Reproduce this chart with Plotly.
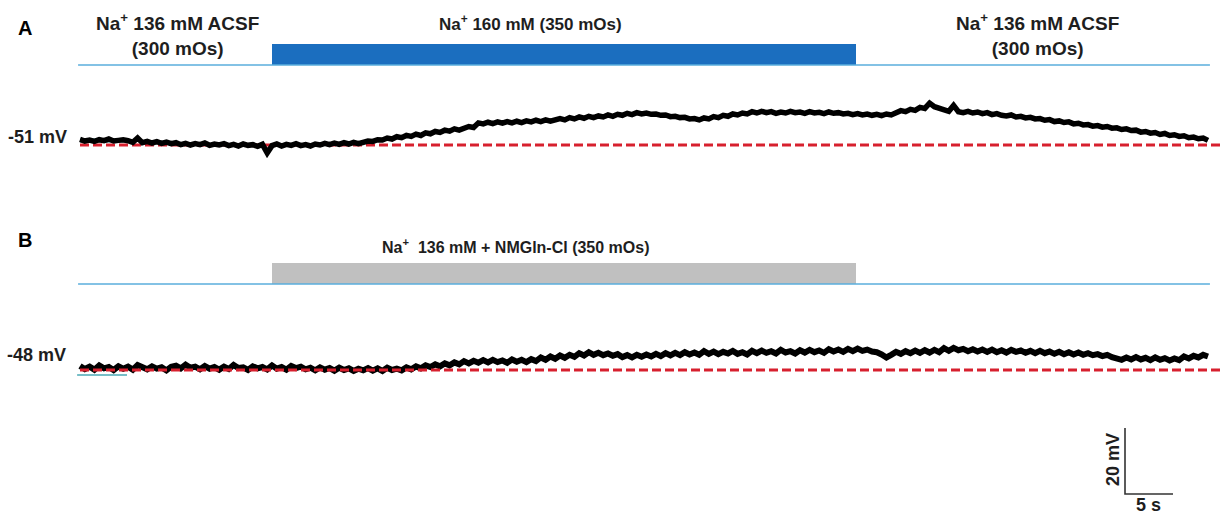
import plotly.graph_objects as go

# ---------------- data ----------------
SAMPLE_DT = 0.5  # s between read-off samples

# Panel A membrane potential (mV), read every 0.5 s from t = 0
V_A = [
    -49.3, -49.8, -49.5, -49.9, -49.4, -49.7, -49.2, -49.8, -49.6, -49.4,
    -49.7, -50.2, -48.9, -50.3, -49.9, -50.4, -50.0, -50.5, -50.1, -50.6,
    -50.3, -50.9, -50.5, -51.0, -50.6, -50.9, -50.4, -51.1, -50.7, -51.0,
    -50.6, -51.2, -50.8, -51.3, -50.7, -51.1, -50.9, -51.4, -50.8, -53.4,
    -51.2, -50.7, -51.3, -50.8, -51.1, -50.6, -51.2, -50.9, -51.3, -50.7,
    -51.0, -50.5, -50.9, -50.4, -50.8, -50.3, -50.7, -50.2, -50.6, -50.1,
    -49.8, -49.9, -49.4, -49.5, -48.9, -49.2, -48.5, -48.8, -48.1, -48.4,
    -47.7, -48.1, -47.3, -47.6, -46.9, -47.2, -46.5, -46.8, -46.1, -46.5,
    -45.9, -45.4, -45.7, -44.3, -44.6, -44.1, -44.5, -44.0, -44.4, -43.9,
    -44.3, -43.8, -44.2, -43.7, -44.0, -43.5, -43.9, -43.4, -43.8, -43.3,
    -43.0, -43.4, -42.7, -43.1, -42.5, -42.9, -42.3, -42.7, -42.2, -42.5,
    -41.9, -42.3, -41.7, -42.0, -41.4, -41.8, -41.2, -41.6, -41.3, -41.7,
    -41.6, -42.0, -41.9, -42.4, -42.3, -42.7, -42.6, -43.1, -43.0, -43.4,
    -42.8, -43.1, -42.4, -42.7, -42.0, -42.3, -41.6, -41.9, -41.3, -41.6,
    -40.9, -41.3, -40.8, -41.2, -40.9, -41.4, -41.0, -41.3, -40.8, -41.2,
    -41.0, -41.4, -40.9, -41.3, -41.1, -41.5, -41.0, -41.4, -41.2, -41.6,
    -41.4, -41.8, -41.5, -41.9, -41.6, -42.0, -41.7, -42.1, -41.6, -41.9,
    -41.2, -40.6, -40.9, -40.2, -40.5, -39.6, -39.9, -38.3, -39.4, -40.0,
    -40.3, -40.8, -39.0, -40.9, -41.2, -40.8, -41.3, -41.0, -41.5, -41.2,
    -41.8, -41.5, -42.0, -42.2, -41.9, -42.5, -42.3, -42.8, -42.6, -43.1,
    -43.0, -43.5, -43.3, -43.9, -43.7, -44.2, -44.0, -44.6, -44.4, -44.9,
    -44.8, -45.3, -45.1, -45.6, -45.4, -45.9, -45.8, -46.3, -46.1, -46.6,
    -46.5, -47.1, -46.9, -47.4, -47.2, -47.8, -47.5, -48.1, -47.9, -48.4,
    -48.2, -48.8, -48.6, -49.1, -48.9, -49.6,
]

# Panel B membrane potential (mV), read every 0.5 s from t = 0
V_B = [
    -46.8, -47.7, -47.0, -47.9, -46.6, -47.5, -47.1, -48.0, -46.9, -47.6,
    -47.0, -47.9, -46.5, -47.4, -47.8, -46.9, -47.6, -47.2, -48.1, -47.0,
    -46.7, -47.5, -46.4, -47.3, -47.0, -47.8, -46.8, -47.6, -47.1, -47.9,
    -47.0, -47.7, -46.5, -47.4, -47.2, -48.0, -46.9, -47.5, -47.1, -47.8,
    -46.6, -47.6, -47.1, -47.9, -46.8, -47.4, -47.0, -47.8, -47.3, -48.1,
    -47.2, -47.9, -47.4, -48.2, -47.3, -48.0, -47.5, -48.3, -47.6, -48.1,
    -47.4, -48.2, -47.5, -48.3, -47.3, -48.0, -47.6, -48.1, -47.2, -47.8,
    -46.9, -47.5, -46.6, -47.1, -46.3, -46.9, -46.0, -46.6, -45.7, -46.3,
    -45.3, -46.0, -45.2, -45.8, -45.0, -45.7, -44.9, -45.6, -45.1, -45.8,
    -44.8, -45.5, -44.9, -45.6, -44.7, -45.3, -44.2, -44.9, -43.9, -44.6,
    -43.6, -44.3, -43.4, -44.0, -42.9, -43.6, -42.6, -43.4, -42.8, -43.5,
    -43.0, -43.7, -43.2, -44.1, -43.5, -44.2, -43.4, -44.0, -43.3, -43.9,
    -43.1, -43.8, -42.9, -43.6, -42.8, -43.5, -42.6, -43.3, -42.7, -43.4,
    -42.3, -43.1, -42.4, -43.2, -42.5, -43.0, -42.2, -43.1, -42.6, -43.3,
    -42.2, -42.9, -42.1, -42.8, -42.3, -43.0, -41.9, -42.7, -42.3, -43.0,
    -42.0, -42.7, -41.9, -42.6, -42.1, -42.8, -41.7, -42.4, -41.8, -42.5,
    -41.6, -42.3, -41.5, -42.2, -41.8, -42.4, -42.6, -43.3, -44.2, -43.4,
    -42.5, -43.1, -42.3, -42.9, -42.1, -42.8, -42.0, -42.7, -41.9, -42.6,
    -41.4, -42.2, -41.3, -42.0, -41.6, -42.3, -41.7, -42.4, -41.8, -42.5,
    -41.8, -42.6, -42.0, -42.7, -41.9, -42.5, -42.1, -42.8, -42.2, -42.9,
    -42.2, -42.9, -42.4, -43.1, -42.5, -43.2, -42.6, -43.3, -42.7, -43.4,
    -42.9, -43.5, -43.2, -43.8, -43.4, -44.1, -44.3, -44.9, -44.2, -44.8,
    -44.1, -44.8, -44.3, -45.0, -44.2, -44.9, -44.4, -45.1, -44.5, -45.0,
    -43.9, -44.5, -43.7, -44.2, -43.4, -43.9,
]

# Short teal overlay traces at the start of each recording
T_TEAL_A = [0.0, 5.0]
T_TEAL_B = [-0.3, 4.9]
V_TEAL_A = [-49.6, -49.6]
V_TEAL_B = [-49.5, -49.5]

# Resting potentials (dashed reference lines)
REST_A = -51
REST_B = -48
REST_LABELS = ["-51 mV", "-48 mV"]

# Perfusion protocol (s)
REC_START, REC_END = -0.2, 117.7
TREAT_START, TREAT_END = 20.0, 80.8
SOLUTION_LABELS_A = ["Na<sup>+</sup> 136 mM ACSF<br>(300 mOs)",
                     "Na<sup>+</sup> 160 mM (350 mOs)",
                     "Na<sup>+</sup> 136 mM ACSF<br>(300 mOs)"]
SOLUTION_LABEL_B = "Na<sup>+</sup>  136 mM + NMGln-Cl (350 mOs)"
PANEL_LABELS = ["A", "B"]

# Scale bar
SCALE_MV = 20
SCALE_S = 5

# ---------------- layout geometry (pixels) ----------------
W, H = 1220, 515
X0_PX = 80          # pixel of t = 0
PX_PER_S = 9.6
PX_PER_MV = 3.3
STIM_PX = 21        # height of solution bar


def t_at(px):
    return (px - X0_PX) / PX_PER_S


def yaxis_cfg(top_px, bot_px, ref_px, ref_val, px_per_unit):
    return dict(
        domain=[1 - bot_px / H, 1 - top_px / H],
        range=[ref_val - (bot_px - ref_px) / px_per_unit,
               ref_val + (ref_px - top_px) / px_per_unit],
        visible=False, fixedrange=True, anchor="x",
    )


def at(xp, yp):
    return dict(x=xp / W, y=1 - yp / H, xref="paper", yref="paper",
                xanchor="center", yanchor="middle", showarrow=False)


def bfont(size, color="#1e1e1e"):
    return dict(family="Arial, 'Liberation Sans', Helvetica, sans-serif",
                size=size, color=color, weight="bold")


times_a = [i * SAMPLE_DT for i in range(len(V_A))]
times_b = [i * SAMPLE_DT for i in range(len(V_B))]

BLUE_LINE = "#5aaedc"
RED = "#d7202e"

fig = go.Figure()

# --- solution bars ---
for yref, col in (("y3", "#1b6ebf"), ("y4", "#c0c0c0")):
    fig.add_trace(go.Scatter(x=[REC_START, REC_END], y=[0, 0], yaxis=yref,
                             mode="lines", line=dict(color=BLUE_LINE, width=1.3),
                             hoverinfo="skip"))
    fig.add_trace(go.Bar(x=[(TREAT_START + TREAT_END) / 2], y=[1], base=[0],
                         width=[TREAT_END - TREAT_START], yaxis=yref,
                         marker=dict(color=col, line=dict(width=0)),
                         hoverinfo="skip"))

# --- panel A ---
fig.add_trace(go.Scatter(x=T_TEAL_A, y=V_TEAL_A, yaxis="y", mode="lines",
                         line=dict(color="#2f9c9c", width=4), hoverinfo="skip"))
fig.add_trace(go.Scatter(x=[0, t_at(W + 5)], y=[REST_A, REST_A], yaxis="y",
                         mode="lines", line=dict(color=RED, width=2.8, dash="9px,4px"),
                         hoverinfo="skip"))
fig.add_trace(go.Scatter(x=times_a, y=V_A, yaxis="y", mode="lines",
                         line=dict(color="black", width=5.5), hoverinfo="skip"))

# --- panel B ---
fig.add_trace(go.Scatter(x=T_TEAL_B, y=V_TEAL_B, yaxis="y2", mode="lines",
                         line=dict(color="#4aa9b5", width=1.5), hoverinfo="skip"))
fig.add_trace(go.Scatter(x=times_b, y=V_B, yaxis="y2", mode="lines",
                         line=dict(color="black", width=6), hoverinfo="skip"))
fig.add_trace(go.Scatter(x=[0, t_at(W + 5)], y=[REST_B, REST_B], yaxis="y2",
                         mode="lines", line=dict(color=RED, width=2.8, dash="9px,4px"),
                         hoverinfo="skip"))

# --- scale bar (in panel B units) ---
sb_t = t_at(1125)
sb_v = REST_B - (494 - 370) / PX_PER_MV
fig.add_trace(go.Scatter(x=[sb_t, sb_t, sb_t + SCALE_S],
                         y=[sb_v + SCALE_MV, sb_v, sb_v], yaxis="y2",
                         mode="lines", line=dict(color="#333333", width=1.6),
                         hoverinfo="skip"))

ann = [
    dict(text=PANEL_LABELS[0], font=bfont(20, "black"), **at(25, 28)),
    dict(text=PANEL_LABELS[1], font=bfont(20, "black"), **at(25, 240)),
    dict(text=SOLUTION_LABELS_A[0], font=bfont(19), align="center", **at(177, 35)),
    dict(text=SOLUTION_LABELS_A[1], font=bfont(17), **at(530, 23)),
    dict(text=SOLUTION_LABELS_A[2], font=bfont(19), align="center", **at(1037, 35)),
    dict(text=SOLUTION_LABEL_B, font=bfont(16), **at(516, 246)),
    dict(text=REST_LABELS[0], font=bfont(18), **at(37, 137)),
    dict(text=REST_LABELS[1], font=bfont(18), **at(36, 355)),
    dict(text="%d mV" % SCALE_MV, font=bfont(18), textangle=-90, **at(1113, 460)),
    dict(text="%d s" % SCALE_S, font=bfont(18), **at(1148, 505)),
]

fig.update_layout(
    width=W, height=H,
    margin=dict(l=0, r=0, t=0, b=0),
    paper_bgcolor="white", plot_bgcolor="white",
    showlegend=False, bargap=0,
    xaxis=dict(range=[t_at(0), t_at(W)], domain=[0, 1], visible=False, fixedrange=True),
    yaxis=yaxis_cfg(0, 200, 145, REST_A, PX_PER_MV),
    yaxis2=yaxis_cfg(300, 515, 370, REST_B, PX_PER_MV),
    yaxis3=yaxis_cfg(30, 75, 65, 0, STIM_PX),
    yaxis4=yaxis_cfg(250, 295, 284, 0, STIM_PX),
    annotations=ann,
)

fig.write_html("out.html", config={"displayModeBar": False},
               post_script="document.body.style.margin='0';document.body.style.overflow='hidden';")
